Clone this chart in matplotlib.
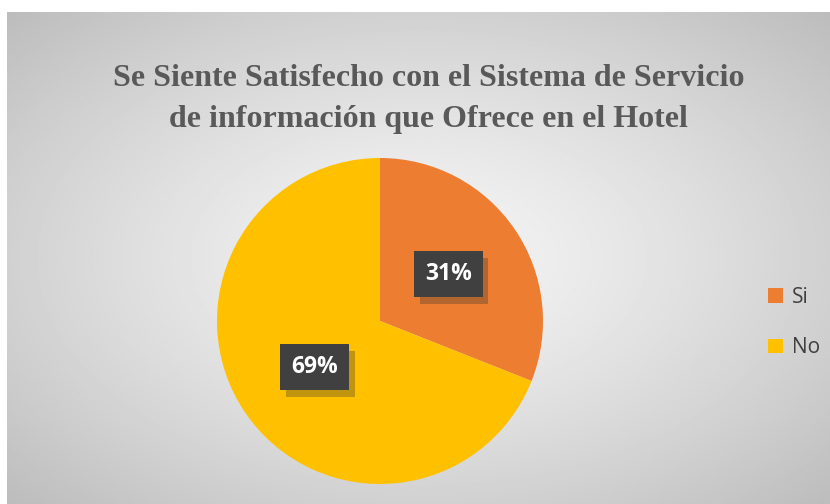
import matplotlib
matplotlib.use("Agg")
import matplotlib.pyplot as plt
import matplotlib.patheffects as pe
import numpy as np

categories = ["Si", "No"]
values = [31, 69]
colors = ["#ED7D31", "#FFC000"]
title = "Se Siente Satisfecho con el Sistema de Servicio\nde información que Ofrece en el Hotel"

fig = plt.figure(figsize=(8.3, 5.04), dpi=100)

# radial gradient background (chart area)
bg = fig.add_axes([7 / 830, 0, 823 / 830, 492 / 504])
yy, xx = np.mgrid[0:1:300j, 0:1:500j]
r = np.sqrt(((xx - 0.5) / 0.8) ** 2 + ((yy - 0.5) / 0.8) ** 2)
shade = np.clip(0.96 - 0.26 * r ** 1.3, 0.74, 1)
bg.imshow(shade, cmap="gray", vmin=0, vmax=1, aspect="auto", extent=[0, 1, 0, 1])
bg.set_axis_off()

fig.text(0.516, 0.803, title, ha="center", va="center", fontsize=23,
         fontweight="bold", family="Liberation Serif", color="#595959",
         linespacing=1.55)

ax = fig.add_axes([(380 - 163) / 830, (504 - 321 - 163) / 504, 326 / 830, 326 / 504])
wedges, _ = ax.pie(values, colors=colors, startangle=90, counterclock=False,
                   radius=1.0)
ax.set_xlim(-1, 1)
ax.set_ylim(-1, 1)
ax.set_aspect("equal")

# labels in dark boxes with shadow
label_pos = [(0.42, 0.29), (-0.40, -0.28)]
for v, (x, y) in zip(values, label_pos):
    ax.text(x, y, f"{v}%", ha="center", va="center", fontsize=16.5,
            fontweight="bold", family="Open Sans", color="white",
            bbox=dict(boxstyle="square,pad=0.48", fc="#404040", ec="none",
                      path_effects=[pe.withSimplePatchShadow(offset=(4, -5), alpha=0.3,
                                                             shadow_rgbFace="#303030")]))

fig.legend(wedges, categories, loc="center left", bbox_to_anchor=(0.903, 0.36),
           frameon=False, handlelength=0.7, handleheight=0.7,
           handletextpad=0.45, labelspacing=1.4, labelcolor="#404040",
           prop=dict(family="Open Sans", size=15))

fig.savefig("out.png", dpi=100)
